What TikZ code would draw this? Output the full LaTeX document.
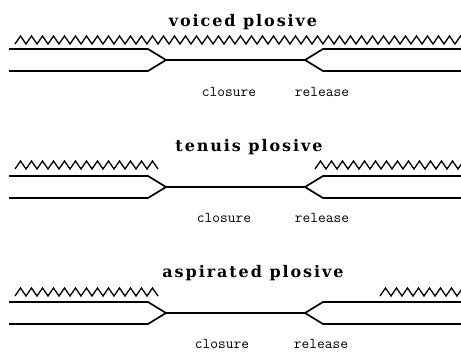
\documentclass[tikz,border=0pt]{standalone}
\usepackage{fontspec}
\setmainfont{DejaVu Serif}
\newfontfamily\headfont[LetterSpace=12]{DejaVu Serif}

% zigzag of voicing: start x, number of half waves, height
\newcommand\voicewave[3]{%
  \draw[voicing] (#1,#3+4) \foreach \k in {1,...,#2} {-- ({#1+5.5*\k},{#3+4*cos(180*\k)})};}

\tikzset{
  tract/.style={line width=1.7pt},
  voicing/.style={line width=1.3pt, line join=miter},
  heading/.style={font=\headfont\bfseries\fontsize{16}{18}\selectfont, inner sep=0pt, anchor=base},
  phase/.style={font=\ttfamily\fontsize{15}{17}\selectfont, inner sep=0pt, anchor=base}
}

\begin{document}
\begin{tikzpicture}[x=1pt, y=-1pt]
\useasboundingbox (0,0) rectangle (461,352);

% voiced
\begin{scope}[shift={(0,60)}]
\node[heading] (title1) at (243,-33) {voiced plosive};
\voicewave{15}{82}{-20}
\draw[tract] (9,-11) -- (148,-11) -- (166,0) -- (305,0) -- (323,-11) -- (461,-11);
\draw[tract] (9,11) -- (148,11) -- (166,0);
\draw[tract] (305,0) -- (323,11) -- (461,11);
\node[phase] (closure1) at (229,37) {closure};
\node[phase] (release1) at (322,37) {release};
\end{scope}

% tenuis
\begin{scope}[shift={(0,187)}]
\node[heading] (title2) at (249,-35) {tenuis plosive};
\voicewave{15}{26}{-22}
\voicewave{315}{27}{-22}
\draw[tract] (9,-11) -- (148,-11) -- (166,0) -- (305,0) -- (323,-11) -- (461,-11);
\draw[tract] (9,11) -- (148,11) -- (166,0);
\draw[tract] (305,0) -- (323,11) -- (461,11);
\node[phase] (closure2) at (224,36) {closure};
\node[phase] (release2) at (322,36) {release};
\end{scope}

% aspirated
\begin{scope}[shift={(0,313)}]
\node[heading] (title3) at (253,-35) {aspirated plosive};
\voicewave{15}{26}{-21}
\voicewave{380}{15}{-21}
\draw[tract] (9,-11) -- (148,-11) -- (166,0) -- (305,0) -- (323,-11) -- (461,-11);
\draw[tract] (9,11) -- (148,11) -- (166,0);
\draw[tract] (305,0) -- (323,11) -- (461,11);
\node[phase] (closure3) at (222,36) {closure};
\node[phase] (release3) at (321,36) {release};
\end{scope}
\end{tikzpicture}
\end{document}
